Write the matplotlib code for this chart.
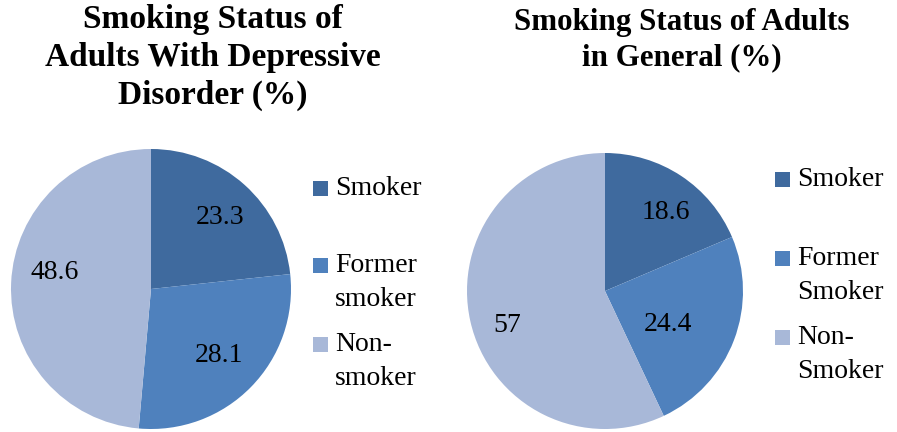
import numpy as np
import matplotlib.pyplot as plt
from matplotlib.patches import Rectangle

# data
labels_dep = ['Smoker', 'Former\nsmoker', 'Non-\nsmoker']
values_dep = [23.3, 28.1, 48.6]
text_dep = ['23.3', '28.1', '48.6']

labels_gen = ['Smoker', 'Former\nSmoker', 'Non-\nSmoker']
values_gen = [18.6, 24.4, 57]
text_gen = ['18.6', '24.4', '57']

title_dep = 'Smoking Status of\nAdults With Depressive\nDisorder (%)'
title_gen = 'Smoking Status of Adults\nin General (%)'

colors = ['#3F6A9E', '#4F81BD', '#A8B8D8']

W, H = 897, 432
plt.rcParams['font.family'] = ['Liberation Serif', 'DejaVu Serif']

fig = plt.figure(figsize=(W/100, H/100), dpi=100)


def px(x, y):
    # pixel coords (top-left origin) -> figure fraction
    return x/W, 1 - y/H


def draw_pie(box, vals, txt, lab_r, lab_da):
    ax = fig.add_axes(box)
    wedges, texts = ax.pie(vals, colors=colors, startangle=90, counterclock=False,
                           labels=txt, labeldistance=0.7,
                           textprops=dict(fontsize=20, color='black'))
    for w, t, r, da in zip(wedges, texts, lab_r, lab_da):
        a = np.deg2rad((w.theta1 + w.theta2)/2 + da)
        t.set_position((r*np.cos(a), r*np.sin(a)))
        t.set_ha('center')
        t.set_va('center')
    ax.set_xlim(-1, 1)
    ax.set_ylim(-1, 1)
    return wedges


def draw_legend(wedges, labs, x, ys):
    for w, lab, y in zip(wedges, labs, ys):
        x0, y0 = px(x, y + 15)
        fig.patches.append(Rectangle((x0, y0), 15/W, 15/H, transform=fig.transFigure,
                                     facecolor=w.get_facecolor(), edgecolor='none'))
        tx, ty = px(x + 22, y - 5)
        fig.text(tx, ty, lab, fontsize=20, va='top', ha='left', linespacing=1.45)


# left pie
wl = draw_pie([11/W, 3/H, 280/W, 280/H], values_dep, text_dep,
              [0.71, 0.68, 0.70], [-2, 0, -7])
draw_legend(wl, labels_dep, 313, [181, 258, 337])
fig.text(*px(213, 4), title_dep, fontsize=24, fontweight='bold', ha='center', va='top',
         linespacing=1.28)

# right pie
wr = draw_pie([467/W, 3/H, 276/W, 276/H], values_gen, text_gen,
              [0.72, 0.52, 0.75], [-4, -7, 7])
draw_legend(wr, labels_gen, 775, [172, 251, 330])
fig.text(*px(682, 8), title_gen, fontsize=22.3, fontweight='bold', ha='center', va='top',
         linespacing=1.26)

fig.savefig('out.png', dpi=100)
